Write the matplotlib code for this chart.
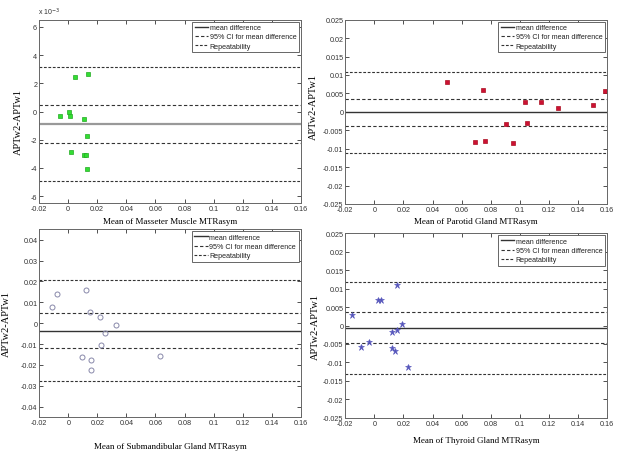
"""Bland-Altman plots of APTw repeatability for four head and neck tissues."""
import matplotlib
matplotlib.use("Agg")
import matplotlib.pyplot as plt
from matplotlib.lines import Line2D
from matplotlib.ticker import FuncFormatter, MultipleLocator

plt.rcParams["font.family"] = ["Liberation Sans", "DejaVu Sans"]

# masseter muscle (diff in real units)
masseter_mean = [-0.0056, 0.0006, 0.0016, 0.0050, 0.0135, 0.0112, 0.0128, 0.0020, 0.0112, 0.0120, 0.0130]
masseter_diff = [-0.32e-3, -0.06e-3, -0.34e-3, 2.47e-3, 2.65e-3, -0.55e-3, -1.70e-3, -2.89e-3, -3.10e-3, -3.08e-3, -4.08e-3]
masseter_lines = [-0.90e-3, 0.43e-3, -2.26e-3, 3.12e-3, -4.92e-3]  # mean, ci hi, ci lo, rep hi, rep lo

# parotid gland
parotid_mean = [0.0497, 0.0747, 0.0694, 0.0761, 0.0906, 0.0956, 0.1039, 0.1050, 0.1149, 0.1266, 0.1504, 0.1584]
parotid_diff = [0.0081, 0.0059, -0.0083, -0.0079, -0.0032, -0.00845, 0.0028, -0.0031, 0.0027, 0.00095, 0.0019, 0.0057]
parotid_lines = [-0.0001, 0.0035, -0.00375, 0.0108, -0.0112]

# submandibular gland
subman_mean = [-0.0110, -0.0081, 0.0124, 0.0149, 0.0220, 0.0330, 0.0252, 0.0227, 0.0096, 0.0154, 0.0154, 0.0631]
subman_diff = [0.0078, 0.0141, 0.0161, 0.0054, 0.0032, -0.0011, -0.0046, -0.0105, -0.0163, -0.0176, -0.0224, -0.0158]
subman_lines = [-0.0035, 0.0047, -0.0117, 0.0205, -0.0277]

# thyroid gland
thyroid_mean = [-0.0154, -0.0092, -0.0039, 0.0022, 0.0043, 0.0121, 0.0156, 0.0190, 0.0121, 0.0144, 0.0153, 0.0231]
thyroid_diff = [0.0028, -0.0057, -0.0045, 0.0070, 0.0070, -0.0017, -0.0012, 0.0004, -0.0060, -0.0069, 0.0109, -0.01135]
thyroid_lines = [-0.0008, 0.0036, -0.0048, 0.0118, -0.01325]

legend_labels = ["mean difference", "95% CI for mean difference", "Repeatability"]

W, H = 625, 452
LINE_COL = "#333333"
SERIF = ["Liberation Serif", "DejaVu Serif"]


def fmt_g(v, _pos):
    s = f"{v:.3f}".rstrip("0").rstrip(".")
    if s in ("-0", ""):
        s = "0"
    return s


def fmt_e3(v, _pos):
    return f"{round(v * 1e3):d}"


def make_ax(fig, left, top, right, bottom):
    return fig.add_axes([left / W, 1 - bottom / H, (right - left) / W, (bottom - top) / H])


def draw_panel(ax, xs, ys, lines, xlabel, ylim, ystep, marker_kw,
               xlab_y, ylab_xy, mean_kw=None):
    mean_kw = mean_kw or {}
    mean, ci_hi, ci_lo, rep_hi, rep_lo = lines
    ax.axhline(mean, color=mean_kw.get("color", LINE_COL), lw=mean_kw.get("lw", 1.0))
    for v in (ci_hi, ci_lo):
        ax.axhline(v, color=LINE_COL, lw=0.8, ls=(0, (3, 2)))
    for v in (rep_hi, rep_lo):
        ax.axhline(v, color=LINE_COL, lw=0.8, ls=(0, (2.5, 1.5)))
    ax.plot(xs, ys, ls="none", **marker_kw)

    ax.set_xlim(-0.02, 0.16)
    ax.set_ylim(*ylim)
    ax.xaxis.set_major_locator(MultipleLocator(0.02))
    ax.yaxis.set_major_locator(MultipleLocator(ystep))
    ax.xaxis.set_major_formatter(FuncFormatter(fmt_g))
    ax.yaxis.set_major_formatter(FuncFormatter(fmt_g))
    ax.tick_params(direction="in", length=3, width=0.6, labelsize=5.2,
                   colors="#333333", top=True, right=True, pad=1.3)
    for sp in ax.spines.values():
        sp.set_color("#666666")
        sp.set_linewidth(0.7)
    ax.set_xlabel(xlabel, family=SERIF, fontsize=6.5)
    ax.set_ylabel("APTw2-APTw1", family=SERIF, fontsize=7.5)
    ax.xaxis.set_label_coords(0.5, xlab_y)
    ax.yaxis.set_label_coords(*ylab_xy)

    handles = [
        Line2D([], [], color=LINE_COL, lw=1.0),
        Line2D([], [], color=LINE_COL, lw=0.8, ls=(0, (3, 2))),
        Line2D([], [], color=LINE_COL, lw=0.8, ls=(0, (2.5, 1.5))),
    ]
    leg = ax.legend(handles, legend_labels, loc="upper right", fontsize=5.1,
                    handlelength=1.9, handletextpad=0.2, borderpad=0.35,
                    labelspacing=0.3, borderaxespad=0.3, fancybox=False,
                    framealpha=1)
    leg.get_frame().set_edgecolor("#666666")
    leg.get_frame().set_linewidth(0.7)
    for t in leg.get_texts():
        t.set_color("#222222")


fig = plt.figure(figsize=(W / 100, H / 100), dpi=100)

ax1 = make_ax(fig, 39, 20.7, 301, 204.3)
draw_panel(ax1, masseter_mean, masseter_diff, masseter_lines,
           "Mean of Masseter Muscle MTRasym", (-6.5e-3, 6.5e-3), 2e-3,
           dict(marker="s", ms=3.3, mfc="#33dd33", mec="#22aa22", mew=0.5),
           xlab_y=-0.075, ylab_xy=(-0.06, 0.45),
           mean_kw=dict(color="#999999", lw=1.6))
ax1.yaxis.set_major_formatter(FuncFormatter(fmt_e3))
ax1.text(-0.005, 1.012, "x 10$^{-3}$", transform=ax1.transAxes, fontsize=5,
         color="#333333", ha="left", va="bottom")

ax2 = make_ax(fig, 345.3, 20.7, 607, 205)
draw_panel(ax2, parotid_mean, parotid_diff, parotid_lines,
           "Mean of Parotid Gland MTRasym", (-0.025, 0.025), 0.005,
           dict(marker="s", ms=3.2, mfc="#cc1133", mec="#aa1122", mew=0.5),
           xlab_y=-0.072, ylab_xy=(-0.106, 0.53))

ax3 = make_ax(fig, 39.3, 230.3, 300.7, 418.1)
draw_panel(ax3, subman_mean, subman_diff, subman_lines,
           "Mean of Submandibular Gland MTRasym", (-0.045, 0.045), 0.01,
           dict(marker="o", ms=3.6, mfc="none", mec="#8888aa", mew=0.7),
           xlab_y=-0.135, ylab_xy=(-0.108, 0.5))

ax4 = make_ax(fig, 345.3, 234.3, 607, 418.7)
draw_panel(ax4, thyroid_mean, thyroid_diff, thyroid_lines,
           "Mean of Thyroid Gland MTRasym", (-0.025, 0.025), 0.005,
           dict(marker="*", ms=4.5, mfc="#5555bb", mec="#5555bb", mew=0.4),
           xlab_y=-0.097, ylab_xy=(-0.099, 0.5))

fig.savefig("out.png", dpi=100)
